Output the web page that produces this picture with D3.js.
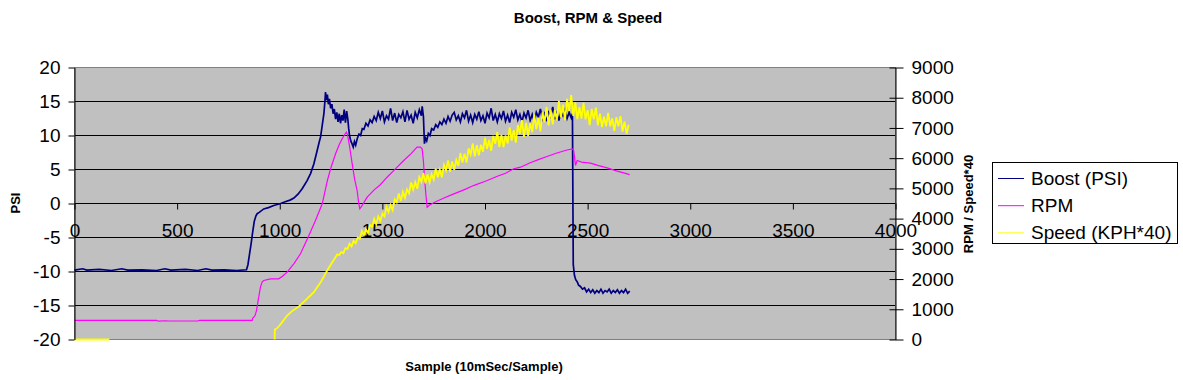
<!DOCTYPE html>
<html>
<head>
<meta charset="utf-8">
<script src="https://cdn.jsdelivr.net/npm/d3@7"></script>
<style>
  body { margin: 0; background: #fff; }
  svg { display: block; font-family: "Liberation Sans", Arial, sans-serif; }
</style>
</head>
<body>
<svg id="chart"></svg>
<script>
// tick values
const psiTicks = [-20, -15, -10, -5, 0, 5, 10, 15, 20]
const rpmTicks = [0, 1000, 2000, 3000, 4000, 5000, 6000, 7000, 8000, 9000]
const sampleTicks = [0, 500, 1000, 1500, 2000, 2500, 3000, 3500, 4000]

const seriesNames = ['Boost (PSI)', 'RPM', 'Speed (KPH*40)']

// [sample, psi]
const boost = [
  [0, -9.8], [40, -9.6], [60, -9.8], [120, -9.7], [180, -9.85], [230, -9.6], [260, -9.8],
  [330, -9.75], [400, -9.85], [440, -9.6], [470, -9.8], [540, -9.7], [600, -9.85], [640, -9.6],
  [670, -9.8], [730, -9.75], [790, -9.85], [838, -9.75],
  [845, -9.0], [852, -7.6], [860, -6.0], [868, -4.2], [876, -2.6], [884, -1.8], [890, -1.5],
  [900, -1.3], [922, -0.8], [945, -0.6], [971, -0.3], [1004, 0], [1030, 0.3], [1050, 0.5],
  [1069, 0.8], [1090, 1.4], [1110, 2.2], [1134, 3.4], [1150, 4.4], [1166, 5.8], [1180, 7.5],
  [1192, 9.0], [1199, 9.8], [1207, 11.5], [1215, 13.2], [1220, 15.0], [1223, 16.4],
  [1227, 15.2], [1232, 16.0], [1237, 14.6], [1242, 15.4], [1248, 14.0], [1254, 14.6],
  [1260, 13.2], [1266, 13.9], [1272, 12.4], [1278, 13.4], [1284, 12.0], [1290, 13.2],
  [1296, 11.8], [1302, 13.0], [1308, 12.2], [1314, 13.8], [1320, 11.9], [1326, 13.6],
  [1332, 12.3], [1336, 11.0], [1340, 10.0], [1346, 9.2], [1352, 8.8], [1358, 8.3],
  [1364, 9.1], [1370, 8.6], [1378, 9.6], [1386, 10.2], [1394, 10.0], [1402, 11.0],
  [1410, 10.9], [1420, 11.8], [1430, 11.4], [1440, 12.3], [1450, 11.9], [1460, 12.8],
  [1470, 12.2], [1480, 13.4], [1490, 12.5], [1500, 13.6], [1510, 12.0], [1520, 12.9],
  [1530, 12.4], [1540, 14.0], [1550, 12.2], [1560, 13.3], [1570, 11.9], [1580, 13.1],
  [1590, 12.6], [1600, 13.5], [1610, 12.0], [1620, 13.7], [1630, 12.4], [1640, 13.0],
  [1650, 11.8], [1660, 13.4], [1670, 12.6], [1680, 13.8], [1690, 12.9], [1694, 14.3],
  [1700, 12.8], [1705, 8.8], [1710, 9.6], [1716, 9.2], [1724, 10.3], [1732, 10.0],
  [1740, 11.0], [1750, 10.8], [1760, 11.6], [1770, 11.2], [1780, 12.0], [1790, 11.6],
  [1800, 12.4], [1810, 11.8], [1820, 12.8], [1830, 12.1], [1840, 13.0],
  [1850, 13.4], [1860, 12.3], [1870, 12.9], [1880, 12.0], [1890, 13.2], [1900, 12.6],
  [1910, 13.7], [1920, 12.1], [1930, 13.0], [1940, 11.9], [1950, 13.1], [1960, 12.4],
  [1970, 13.5], [1980, 12.2], [1990, 12.9], [2000, 11.8], [2010, 13.3], [2020, 12.6],
  [2030, 14.0], [2040, 12.2], [2050, 13.1], [2060, 12.0], [2070, 13.2], [2080, 12.5],
  [2090, 13.6], [2100, 12.1], [2110, 13.0], [2120, 11.9], [2130, 13.4], [2140, 12.7],
  [2150, 13.8], [2160, 12.3], [2170, 13.1], [2180, 12.0], [2190, 13.3], [2200, 12.6],
  [2210, 13.7], [2220, 12.2], [2230, 13.1], [2240, 12.0], [2250, 13.4], [2260, 12.7],
  [2270, 13.9], [2280, 12.4], [2290, 13.2], [2300, 12.1], [2310, 13.4], [2320, 12.8],
  [2330, 14.2], [2340, 12.4], [2350, 13.3], [2360, 12.2], [2370, 13.5], [2380, 12.9],
  [2390, 13.8], [2400, 12.5], [2410, 13.4], [2420, 12.6], [2426, 13.2],
  [2430, -9.0], [2436, -10.6], [2442, -11.2], [2449, -11.5], [2456, -12.0], [2465, -12.2],
  [2475, -12.6], [2485, -12.4], [2495, -13.0], [2505, -12.6], [2515, -13.1], [2525, -12.7],
  [2535, -13.2], [2545, -12.8], [2555, -13.1], [2565, -12.6], [2575, -13.2], [2585, -12.8],
  [2595, -13.0], [2605, -12.6], [2615, -13.2], [2625, -12.8], [2635, -13.1], [2645, -12.7],
  [2655, -13.2], [2665, -12.8], [2675, -13.1], [2685, -12.6], [2695, -13.2], [2705, -12.9]
]

// [sample, rpm]
const rpm = [
  [0, 630], [400, 630], [410, 605], [440, 620], [460, 612], [600, 612], [610, 630],
  [866, 630], [868, 700], [874, 740], [880, 800], [887, 960], [895, 1300], [906, 1731],
  [914, 1900], [922, 1952], [955, 2008], [995, 2008], [1015, 2100], [1036, 2228],
  [1070, 2520], [1101, 2835], [1142, 3441], [1174, 3937], [1207, 4490], [1232, 5261],
  [1250, 5700], [1272, 6144], [1290, 6450], [1304, 6641], [1318, 6800], [1325, 6860],
  [1330, 6780], [1340, 6400], [1353, 5813], [1365, 5300], [1377, 4930], [1385, 4500],
  [1390, 4323], [1400, 4420], [1426, 4709], [1460, 4950], [1490, 5120], [1523, 5370],
  [1560, 5620], [1604, 5923], [1640, 6150], [1669, 6364], [1686, 6364], [1694, 6300],
  [1700, 5900], [1705, 5370], [1712, 4800], [1718, 4378], [1730, 4450], [1760, 4560],
  [1800, 4680], [1848, 4819], [1900, 4960], [1950, 5110], [2011, 5261], [2060, 5400],
  [2100, 5500], [2140, 5647], [2173, 5702], [2220, 5850], [2260, 5950], [2302, 6055],
  [2350, 6170], [2400, 6270], [2425, 6310], [2432, 6250], [2441, 5757], [2449, 5923],
  [2470, 5870], [2514, 5834], [2550, 5760], [2595, 5680], [2640, 5580], [2693, 5482],
  [2705, 5450]
]

// [sample, kph*40], null = no reading
const speed = [
  [0, 0], [170, 0], [172, null],
  [975, 0], [976, 330], [985, 360], [995, 430], [1010, 560], [1036, 794], [1060, 940],
  [1093, 1092], [1130, 1330], [1166, 1566], [1200, 1900], [1231, 2283], [1255, 2550],
  [1268, 2680],
  [1280, 2815], [1290, 2795], [1300, 2895], [1310, 2855], [1320, 3020], [1330, 2995],
  [1340, 3170], [1350, 3080], [1360, 3265], [1370, 3185], [1380, 3380], [1390, 3330],
  [1400, 3590], [1410, 3460], [1420, 3640], [1430, 3525], [1440, 3795], [1450, 3735],
  [1460, 3990], [1470, 3810], [1480, 4075], [1490, 3925], [1500, 4170], [1510, 4075],
  [1520, 4395], [1530, 4220], [1540, 4450], [1550, 4285], [1560, 4640], [1570, 4540],
  [1580, 4830], [1590, 4585], [1600, 4885], [1610, 4690], [1620, 4965], [1630, 4835],
  [1640, 5195], [1650, 4965], [1660, 5205], [1670, 4985], [1680, 5370], [1690, 5215],
  [1700, 5505], [1710, 5170], [1720, 5460], [1730, 5205], [1740, 5470], [1750, 5295],
  [1760, 5650], [1770, 5370], [1780, 5620], [1790, 5365], [1800, 5775], [1810, 5595],
  [1820, 5925], [1830, 5560], [1840, 5895], [1850, 5615], [1860, 5935], [1870, 5745],
  [1880, 6170], [1890, 5855], [1900, 6145], [1910, 5855], [1920, 6325], [1930, 6125],
  [1940, 6485], [1950, 6060], [1960, 6430], [1970, 6095], [1980, 6445], [1990, 6215],
  [2000, 6675], [2010, 6310], [2020, 6605], [2030, 6240], [2040, 6735], [2050, 6475],
  [2060, 6865], [2070, 6370], [2080, 6770], [2090, 6370], [2100, 6755], [2110, 6485],
  [2120, 7015], [2130, 6585], [2140, 6925], [2150, 6515], [2160, 7095], [2170, 6810],
  [2180, 7260], [2190, 6705], [2200, 7165], [2210, 6735], [2220, 7165], [2230, 6860],
  [2240, 7445], [2250, 6960], [2260, 7340], [2270, 6885], [2280, 7515], [2290, 7195],
  [2300, 7695], [2310, 7085], [2320, 7595], [2330, 7120], [2340, 7595], [2350, 7255],
  [2360, 7895], [2370, 7350], [2380, 7770], [2390, 7255], [2400, 7960], [2410, 7565],
  [2420, 8085], [2430, 7395], [2440, 7845], [2450, 7295], [2460, 7685], [2470, 7310],
  [2480, 7830], [2490, 7285], [2500, 7590], [2510, 7095], [2520, 7630], [2530, 7285],
  [2540, 7675], [2550, 7090], [2560, 7475], [2570, 7030], [2580, 7370], [2590, 7055],
  [2600, 7500], [2610, 7055], [2620, 7320], [2630, 6905], [2640, 7355], [2650, 7055],
  [2660, 7390], [2670, 6875], [2680, 7205], [2690, 6805], [2700, 7105]
]

const W = 1183
const H = 380
const margin = { top: 67, left: 74, right: 288, bottom: 41 }
const width = W - margin.left - margin.right
const height = H - margin.top - margin.bottom
const fontFamily = '"Liberation Sans", Arial, sans-serif'
const labelSize = 19

const svg = d3.select('#chart').attr('width', W).attr('height', H)

const x = d3.scaleLinear().domain([0, 4000]).range([0, width])
const yLeft = d3.scaleLinear().domain([-20, 20]).range([height, 0])
const yRight = d3.scaleLinear().domain([0, 9000]).range([height, 0])
const color = d3.scaleOrdinal().domain(seriesNames).range(['#000080', '#ff00ff', '#ffff00'])

const g = svg.append('g').attr('transform', `translate(${margin.left},${margin.top})`)

// plot area
g.append('rect')
  .attr('width', width)
  .attr('height', height)
  .attr('fill', '#c0c0c0')

g.selectAll('.grid')
  .data(psiTicks.slice(1, -1))
  .enter()
  .append('line')
  .attr('x1', 0)
  .attr('x2', width)
  .attr('y1', d => yLeft(d) + 0.5)
  .attr('y2', d => yLeft(d) + 0.5)
  .attr('stroke', '#000')

g.append('rect')
  .attr('x', 0.5)
  .attr('y', 0.5)
  .attr('width', width)
  .attr('height', height)
  .attr('fill', 'none')
  .attr('stroke', '#808080')

// x axis sits on the 0 psi line, labels go under the lines
const xAxis = g.append('g')
  .attr('transform', `translate(0.5,${yLeft(0) + 0.5})`)
  .call(d3.axisBottom(x).tickValues(sampleTicks).tickFormat(d => String(d))
    .tickSize(6).tickSizeOuter(0).tickPadding(14))
xAxis.select('.domain').remove()
xAxis.selectAll('line').attr('stroke', '#000')
xAxis.selectAll('text')
  .attr('font-size', labelSize)
  .attr('font-family', fontFamily)
  .attr('fill', '#000')

// series
const line = (yScale) => d3.line()
  .defined(d => d[1] !== null)
  .x(d => x(d[0]) + 0.5)
  .y(d => yScale(d[1]) + 0.5)

g.append('path')
  .datum(boost)
  .attr('d', line(yLeft))
  .attr('fill', 'none')
  .attr('stroke', color('Boost (PSI)'))
  .attr('stroke-width', 1.7)

g.append('path')
  .datum(rpm)
  .attr('d', line(yRight))
  .attr('fill', 'none')
  .attr('stroke', color('RPM'))
  .attr('stroke-width', 1.2)

g.append('path')
  .datum(speed)
  .attr('d', line(yRight))
  .attr('fill', 'none')
  .attr('stroke', color('Speed (KPH*40)'))
  .attr('stroke-width', 1.8)

// left axis
const leftAxis = g.append('g')
  .attr('transform', 'translate(0.5,0.5)')
  .call(d3.axisLeft(yLeft).tickValues(psiTicks).tickFormat(d => String(d))
    .tickSize(6).tickSizeOuter(0).tickPadding(8))
leftAxis.select('.domain').attr('stroke', '#000')
leftAxis.selectAll('text')
  .attr('font-size', labelSize)
  .attr('font-family', fontFamily)
  .attr('fill', '#000')

// right axis, ticks cross the line
const rightAxis = g.append('g')
  .attr('transform', `translate(${width + 0.5},0.5)`)
  .call(d3.axisRight(yRight).tickValues(rpmTicks).tickFormat(d => String(d))
    .tickSize(8).tickSizeOuter(0).tickPadding(8))
rightAxis.select('.domain').attr('stroke', '#000')
rightAxis.selectAll('line').attr('x1', -6).attr('stroke', '#000')
rightAxis.selectAll('text')
  .attr('font-size', labelSize)
  .attr('font-family', fontFamily)
  .attr('fill', '#000')

// titles
svg.append('text')
  .attr('x', 588)
  .attr('y', 23)
  .attr('text-anchor', 'middle')
  .attr('font-size', 15)
  .attr('font-weight', 'bold')
  .text('Boost, RPM & Speed')

svg.append('text')
  .attr('x', 484)
  .attr('y', 371)
  .attr('text-anchor', 'middle')
  .attr('font-size', 13)
  .attr('font-weight', 'bold')
  .text('Sample (10mSec/Sample)')

svg.append('text')
  .attr('transform', 'translate(20,203) rotate(-90)')
  .attr('text-anchor', 'middle')
  .attr('font-size', 13)
  .attr('font-weight', 'bold')
  .text('PSI')

svg.append('text')
  .attr('transform', 'translate(973,204) rotate(-90)')
  .attr('text-anchor', 'middle')
  .attr('font-size', 13)
  .attr('font-weight', 'bold')
  .text('RPM / Speed*40')

// legend
const legend = svg.append('g').attr('transform', 'translate(992,162)')
legend.append('rect')
  .attr('x', 0.5)
  .attr('y', 0.5)
  .attr('width', 185)
  .attr('height', 81)
  .attr('fill', '#fff')
  .attr('stroke', '#000')

const item = legend.selectAll('.item')
  .data(seriesNames)
  .enter()
  .append('g')
  .attr('transform', (d, i) => `translate(0,${16 + i * 27.2})`)
item.append('line')
  .attr('x1', 6)
  .attr('x2', 32)
  .attr('y1', 0.5)
  .attr('y2', 0.5)
  .attr('stroke', d => color(d))
item.append('text')
  .attr('x', 39)
  .attr('y', 7)
  .attr('font-size', labelSize)
  .text(d => d)
</script>
</body>
</html>
